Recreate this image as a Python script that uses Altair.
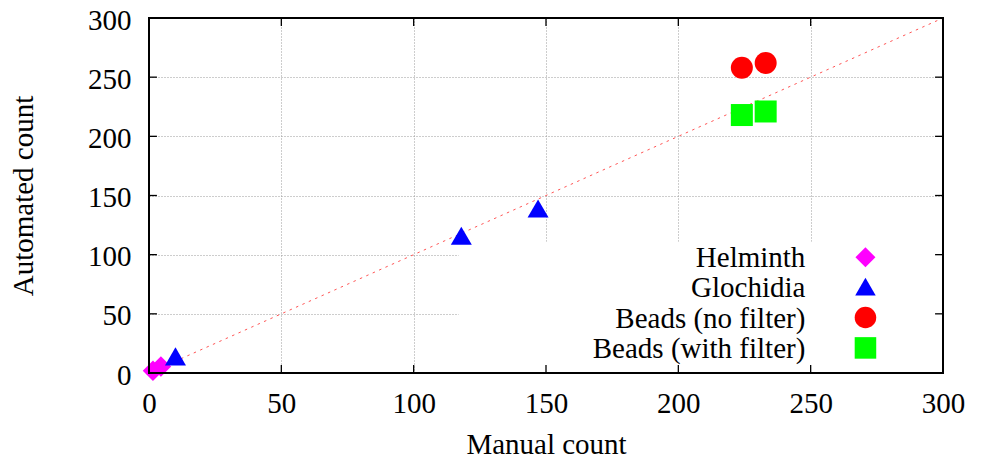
import altair as alt
import pandas as pd

# ---- data ----
series = ["Helminth", "Glochidia", "Beads (no filter)", "Beads (with filter)"]
colors = ["#ff00ff", "#0000ff", "#ff0000", "#00ff00"]
shapes = ["diamond", "triangle-up", "circle", "square"]
sizes = [420, 441, 484, 484]

helminth_manual = [1.5, 4.5]
helminth_auto = [2.0, 5.5]
glochidia_manual = [10, 118, 147]
glochidia_auto = [14, 116, 139]
beads_nf_manual = [224, 233]
beads_nf_auto = [258, 262]
beads_wf_manual = [224, 233]
beads_wf_auto = [218, 221]

ticks = [0, 50, 100, 150, 200, 250, 300]

# ---- layout helpers (positions in data units) ----
legend_label_x = 248
legend_symbol_x = 270.7
legend_rows_y = [97.8, 72.9, 46.9, 21.2]
key_box = dict(x=117, x2=300, y=0, y2=111)
tick_len_x = 3.0
tick_len_y = 6.8

FONT = "Liberation Serif"
FS = 29

xs = alt.Scale(domain=[0, 300], nice=False, zero=False)
ys = alt.Scale(domain=[0, 300], nice=False, zero=False)

axis_x = alt.Axis(values=ticks, title="Manual count", domain=False, ticks=False,
                  grid=True, gridDash=[1, 2], gridColor="#9a9a9a", gridWidth=1,
                  labelFont=FONT, labelFontSize=FS, labelColor="black", labelPadding=16,
                  titleFont=FONT, titleFontSize=FS, titleFontWeight="normal", titleColor="black",
                  titleY=80, titleBaseline="alphabetic", labelFlush=False)
axis_y = alt.Axis(values=ticks, title="Automated count", domain=False, ticks=False,
                  grid=True, gridDash=[1, 2], gridColor="#9a9a9a", gridWidth=1,
                  labelFont=FONT, labelFontSize=FS, labelColor="black", labelPadding=18,
                  labelOffset=2,
                  titleFont=FONT, titleFontSize=FS, titleFontWeight="normal", titleColor="black",
                  titleX=-126, titleBaseline="middle", titleAngle=-90, labelFlush=False)


def X(field):
    return alt.X(field, type="quantitative", scale=xs, axis=axis_x)


def Y(field):
    return alt.Y(field, type="quantitative", scale=ys, axis=axis_y)


# key box (covers the grid, as the gnuplot key does)
box_df = pd.DataFrame([key_box])
box = alt.Chart(box_df).mark_rect(color="white", opacity=1).encode(
    x=X("x"), x2="x2", y=Y("y"), y2="y2")

# diagonal y = x
diag_df = pd.DataFrame({"m": [0, 300], "a": [0, 300]})
diag = alt.Chart(diag_df).mark_line(color="#ff5555", strokeWidth=1, strokeDash=[2.5, 4.5]).encode(
    x=X("m"), y=Y("a"))

# inward ticks on all four sides
tick_rows = []
for t in ticks:
    tick_rows.append(dict(x=t, x2=t, y=0, y2=tick_len_y))
    tick_rows.append(dict(x=t, x2=t, y=300, y2=300 - tick_len_y))
    tick_rows.append(dict(x=0, x2=tick_len_x, y=t, y2=t))
    tick_rows.append(dict(x=300, x2=300 - tick_len_x, y=t, y2=t))
ticks_df = pd.DataFrame(tick_rows)
tick_marks = alt.Chart(ticks_df).mark_rule(color="black", strokeWidth=1.3).encode(
    x=X("x"), x2="x2", y=Y("y"), y2="y2")

# frame
frame_df = pd.DataFrame([dict(x=0, x2=300, y=0, y2=300)])
frame = alt.Chart(frame_df).mark_rect(fillOpacity=0, stroke="black", strokeWidth=2).encode(
    x=X("x"), x2="x2", y=Y("y"), y2="y2")

# data points
pts = [
    (helminth_manual, helminth_auto),
    (glochidia_manual, glochidia_auto),
    (beads_nf_manual, beads_nf_auto),
    (beads_wf_manual, beads_wf_auto),
]
point_layers = []
for i, (m, a) in enumerate(pts):
    df = pd.DataFrame({"manual": m, "auto": a, "series": series[i]})
    point_layers.append(
        alt.Chart(df).mark_point(shape=shapes[i], size=sizes[i], filled=True,
                                 color=colors[i], opacity=1, strokeWidth=0).encode(
            x=X("manual"), y=Y("auto")))

# legend (labels right-aligned, symbols to their right)
leg_df = pd.DataFrame({"label": series, "lx": [legend_label_x] * 4,
                       "sx": [legend_symbol_x] * 4, "ly": legend_rows_y})
leg_text = alt.Chart(leg_df).mark_text(align="right", baseline="alphabetic", dy=10,
                                       font=FONT, fontSize=FS, color="black").encode(
    x=X("lx"), y=Y("ly"), text="label:N")
leg_syms = []
for i in range(4):
    d = leg_df.iloc[[i]]
    leg_syms.append(
        alt.Chart(d).mark_point(shape=shapes[i], size=sizes[i] - 20, filled=True,
                                color=colors[i], opacity=1, strokeWidth=0).encode(
            x=X("sx"), y=Y("ly")))

chart = alt.layer(box, diag, *point_layers, tick_marks, frame, leg_text, *leg_syms).properties(
    width=794, height=355,
    autosize=alt.AutoSizeParams(type="none"),
    padding={"left": 141, "top": 10, "right": 30, "bottom": 82},
).configure_view(stroke=None)

chart.save("out.html", embed_options={"renderer": "svg", "actions": False})
